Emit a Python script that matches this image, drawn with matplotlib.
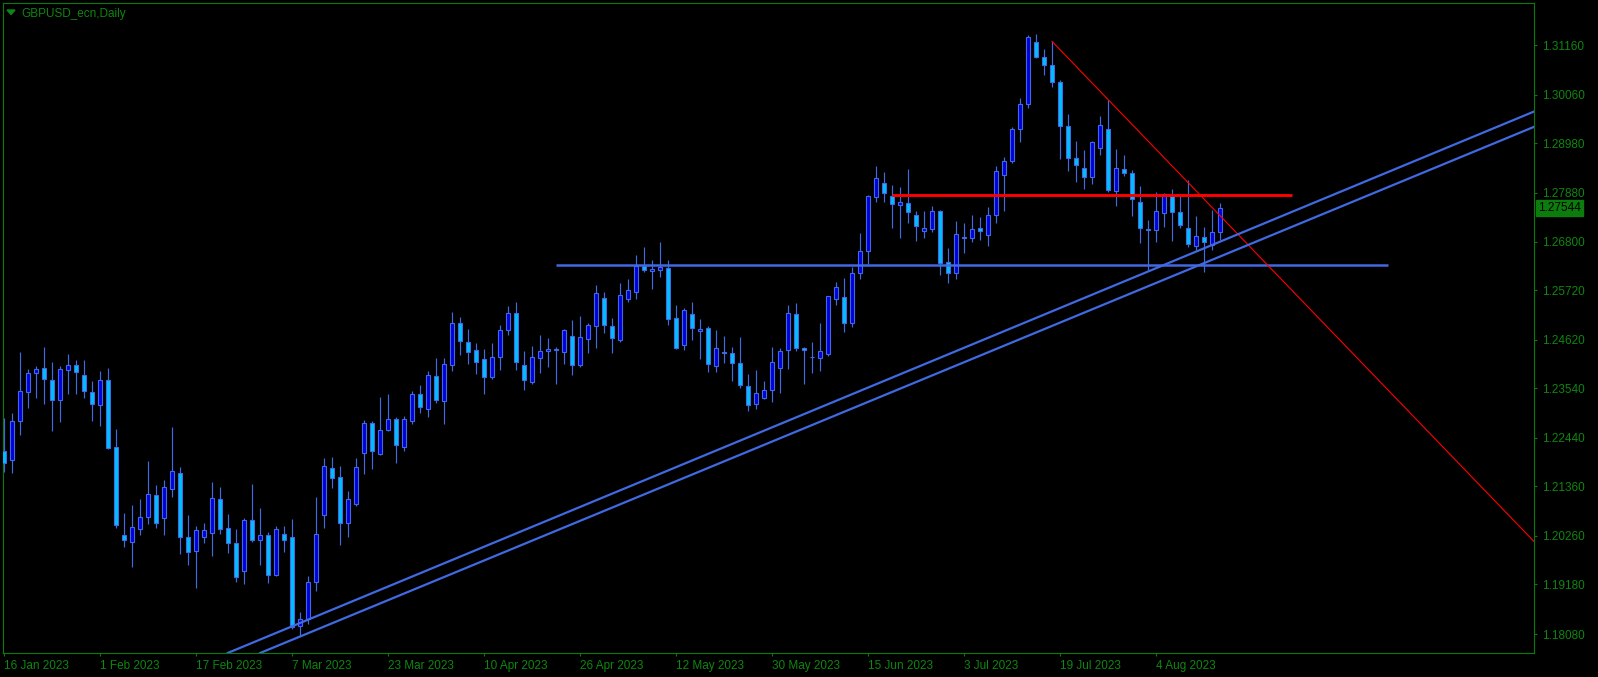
import matplotlib
matplotlib.use("Agg")
import matplotlib.pyplot as plt
import numpy as np
from matplotlib.patches import Polygon
from matplotlib.transforms import blended_transform_factory

plt.rcParams['font.family'] = ['Liberation Sans', 'DejaVu Sans']

# ---------------- data (GBPUSD daily, bar 0 = 16 Jan 2023) ----------------
opens = [1.22139, 1.21939, 1.22806, 1.23450, 1.23872, 1.23983, 1.23717, 1.23272, 1.23939, 1.24050,
         1.23828, 1.23450, 1.23161, 1.23717, 1.22228, 1.20273, 1.20117, 1.20406, 1.20673, 1.21162,
         1.20651, 1.21295, 1.21650, 1.20228, 1.19917, 1.20228, 1.20317, 1.21073, 1.20428, 1.20095,
         1.19473, 1.20606, 1.20162, 1.20273, 1.19399, 1.20295, 1.20228, 1.18258, 1.18407, 1.19229,
         1.20717, 1.21762, 1.21562, 1.20540, 1.20977, 1.22095, 1.22761, 1.22073, 1.22606, 1.22850,
         1.22228, 1.22806, 1.23405, 1.23072, 1.23805, 1.23250, 1.24050, 1.24983, 1.24561, 1.24383,
         1.24183, 1.23798, 1.24227, 1.24827, 1.25205, 1.24050, 1.23687, 1.24205, 1.24361, 1.24405,
         1.24338, 1.24694, 1.24050, 1.24627, 1.24916, 1.25538, 1.24916, 1.24605, 1.25516, 1.25671,
         1.26249, 1.26138, 1.26160, 1.26205, 1.25094, 1.24494, 1.25183, 1.24805, 1.24872, 1.24027,
         1.24338, 1.24330, 1.24094, 1.23583, 1.23183, 1.23331, 1.23494, 1.23983, 1.24383, 1.25183,
         1.24427, 1.24227, 1.24205, 1.24294, 1.25516, 1.25560, 1.25000, 1.26094, 1.26582, 1.27782,
         1.28093, 1.27804, 1.27604, 1.27649, 1.27382, 1.27027, 1.27071, 1.27471, 1.26338, 1.26094,
         1.26893, 1.26871, 1.27093, 1.26938, 1.27382, 1.28271, 1.28582, 1.29293, 1.29848, 1.31226,
         1.30893, 1.30715, 1.30337, 1.29360, 1.28649, 1.28426, 1.28226, 1.28871, 1.29293, 1.27915,
         1.28404, 1.28315, 1.27671, 1.27071, 1.27049, 1.27427, 1.27804, 1.27449, 1.27093, 1.26693,
         1.26893, 1.26716, 1.27004]
highs = [1.22880, 1.22984, 1.24346, 1.23969, 1.24035, 1.24457, 1.24124, 1.24035, 1.24302, 1.24168,
         1.24168, 1.23702, 1.23924, 1.23991, 1.22635, 1.20769, 1.20947, 1.21080, 1.21924, 1.21391,
         1.21502, 1.22680, 1.21791, 1.20725, 1.20473, 1.20547, 1.21450, 1.21347, 1.20740, 1.20406,
         1.20651, 1.21413, 1.20873, 1.20347, 1.20473, 1.20480, 1.20628, 1.18562, 1.19362, 1.21125,
         1.21991, 1.22013, 1.21813, 1.21251, 1.21991, 1.22835, 1.22813, 1.23346, 1.23413, 1.22895,
         1.22917, 1.23472, 1.23613, 1.23924, 1.24213, 1.24213, 1.25227, 1.25123, 1.24849, 1.24546,
         1.24412, 1.24546, 1.24946, 1.25368, 1.25449, 1.24361, 1.24479, 1.24724, 1.24650, 1.24450,
         1.24849, 1.25049, 1.25146, 1.24983, 1.25827, 1.25671, 1.25094, 1.25871, 1.25960, 1.26501,
         1.26679, 1.26382, 1.26790, 1.26390, 1.25390, 1.25316, 1.25449, 1.25072, 1.24916, 1.24827,
         1.24694, 1.24450, 1.24672, 1.23850, 1.23938, 1.23694, 1.24450, 1.24427, 1.25383, 1.25427,
         1.24450, 1.24561, 1.24983, 1.25600, 1.25901, 1.25990, 1.26227, 1.26982, 1.27834, 1.28478,
         1.28345, 1.28056, 1.28012, 1.28412, 1.27478, 1.27478, 1.27590, 1.27493, 1.26656, 1.27249,
         1.27204, 1.27382, 1.27338, 1.27560, 1.28471, 1.28671, 1.29337, 1.29982, 1.31381, 1.31404,
         1.31078, 1.31248, 1.30389, 1.29634, 1.29034, 1.28834, 1.29034, 1.29589, 1.29937, 1.28849,
         1.28723, 1.28382, 1.28027, 1.27286, 1.27908, 1.27871, 1.27960, 1.27804, 1.28167, 1.27367,
         1.27130, 1.27493, 1.27649]
lows = [1.21687, 1.21665, 1.22510, 1.23109, 1.23332, 1.23198, 1.22598, 1.22798, 1.23420, 1.23420,
        1.23332, 1.22821, 1.22709, 1.22198, 1.20443, 1.20021, 1.19577, 1.20288, 1.20532, 1.20443,
        1.20288, 1.21132, 1.19866, 1.19621, 1.19110, 1.20110, 1.19821, 1.20310, 1.19888, 1.19243,
        1.19199, 1.20132, 1.19621, 1.19221, 1.19377, 1.19910, 1.18184, 1.18029, 1.18295, 1.19044,
        1.20443, 1.21332, 1.20066, 1.20243, 1.20932, 1.21643, 1.21754, 1.22060, 1.22584, 1.21887,
        1.22154, 1.22754, 1.22998, 1.22909, 1.23220, 1.22750, 1.23931, 1.24287, 1.24087, 1.23864,
        1.23420, 1.23753, 1.23953, 1.24731, 1.23953, 1.23509, 1.23642, 1.23887, 1.24020, 1.23642,
        1.24087, 1.23842, 1.24005, 1.24331, 1.24442, 1.24775, 1.24331, 1.24575, 1.25449, 1.25531,
        1.26116, 1.25753, 1.26005, 1.24938, 1.24420, 1.24398, 1.24620, 1.24198, 1.23894, 1.23894,
        1.24109, 1.23709, 1.23553, 1.23042, 1.23087, 1.23309, 1.23242, 1.23442, 1.23975, 1.24375,
        1.23642, 1.23887, 1.23931, 1.24250, 1.25400, 1.24800, 1.24900, 1.25975, 1.26294, 1.27671,
        1.27686, 1.27108, 1.26886, 1.27219, 1.26819, 1.26871, 1.27004, 1.26049, 1.25886, 1.25975,
        1.26553, 1.26797, 1.26842, 1.26708, 1.27219, 1.27486, 1.28538, 1.29019, 1.29774, 1.30870,
        1.30493, 1.30241, 1.28641, 1.28375, 1.28130, 1.27960, 1.28071, 1.28730, 1.27893, 1.27597,
        1.28249, 1.27375, 1.26775, 1.26160, 1.26797, 1.27116, 1.26819, 1.27093, 1.26671, 1.26605,
        1.26131, 1.26605, 1.26842]
closes = [1.21887, 1.22806, 1.23472, 1.23872, 1.23961, 1.23754, 1.23272, 1.23961, 1.24050, 1.23909,
          1.23487, 1.23183, 1.23717, 1.22221, 1.20510, 1.20177, 1.20451, 1.20673, 1.21184, 1.20554,
          1.21339, 1.21695, 1.20228, 1.19910, 1.20384, 1.20384, 1.21095, 1.20421, 1.20095, 1.19355,
          1.20606, 1.20177, 1.20273, 1.19399, 1.20406, 1.20162, 1.18244, 1.18407, 1.19229, 1.20295,
          1.21806, 1.21539, 1.20540, 1.21073, 1.21784, 1.22761, 1.22139, 1.22606, 1.22850, 1.22273,
          1.22850, 1.23406, 1.23116, 1.23827, 1.23272, 1.24072, 1.24983, 1.24598, 1.24353, 1.24131,
          1.23798, 1.24227, 1.24827, 1.25205, 1.24116, 1.23731, 1.24227, 1.24361, 1.24405, 1.24383,
          1.24827, 1.24050, 1.24672, 1.24938, 1.25649, 1.24938, 1.24650, 1.25605, 1.25716, 1.26249,
          1.26160, 1.26182, 1.26227, 1.25072, 1.24442, 1.25272, 1.24872, 1.24849, 1.24072, 1.24427,
          1.24330, 1.24094, 1.23620, 1.23176, 1.23427, 1.23494, 1.24116, 1.24361, 1.25205, 1.24442,
          1.24383, 1.24235, 1.24361, 1.25583, 1.25783, 1.25000, 1.26094, 1.26582, 1.27804, 1.28204,
          1.27871, 1.27627, 1.27671, 1.27449, 1.27138, 1.27093, 1.27471, 1.26331, 1.26094, 1.26960,
          1.26871, 1.27071, 1.27027, 1.27382, 1.28360, 1.28582, 1.29293, 1.29848, 1.31337, 1.30893,
          1.30715, 1.30337, 1.29360, 1.28649, 1.28493, 1.28226, 1.29004, 1.29382, 1.27938, 1.28426,
          1.28315, 1.27738, 1.27093, 1.27060, 1.27471, 1.27849, 1.27449, 1.27160, 1.26738, 1.26916,
          1.26782, 1.27004, 1.27544]

xtick_bars = [0, 12, 24, 36, 48, 60, 72, 84, 96, 108, 120, 132, 144]
xtick_labels = ['16 Jan 2023', '1 Feb 2023', '17 Feb 2023', '7 Mar 2023', '23 Mar 2023',
                '10 Apr 2023', '26 Apr 2023', '12 May 2023', '30 May 2023', '15 Jun 2023',
                '3 Jul 2023', '19 Jul 2023', '4 Aug 2023']
ytick_labels = ['1.31160', '1.30060', '1.28980', '1.27880', '1.26800', '1.25720', '1.24620',
                '1.23540', '1.22440', '1.21360', '1.20260', '1.19180', '1.18080']

# drawn objects (bar index, price)
red_level = 1.27827
red_level_span = [111, 161]
blue_level = 1.26272
blue_level_span = [69, 173]
red_ray_pts = [(131, 1.31248), (138, 1.29957)]
trend_upper_pts = [(36, 1.18250), (191, 1.29670)]
trend_lower_pts = [(33, 1.17730), (191, 1.29330)]
last_price = '1.27544'
title = 'GBPUSD_ecn,Daily'

# ---------------- styling ----------------
W, H = 1598, 677
GREEN = '#0f860f'
FRAME = '#0a7a0a'
OUTLINE = '#4169E1'
BULL = '#0000D8'
BEAR = '#00BFFF'
LINEBLUE = '#4169E1'

fig = plt.figure(figsize=(W / 100, H / 100), dpi=100, facecolor='black')
L, R, T, B = 2.7, 1534, 2.6, 653
ax = fig.add_axes([L / W, (H - B) / H, (R - L) / W, (B - T) / H])
ax.set_facecolor('black')
ax.set_xlim(-0.16, 191.25)
ax.set_ylim(1.17658, 1.32109)

o = np.array(opens); h = np.array(highs); lo = np.array(lows); c = np.array(closes)
x = np.arange(len(o))
ax.vlines(x, lo, h, colors=OUTLINE, linewidth=0.85, zorder=2)
fills = [BULL if cc >= oo else BEAR for oo, cc in zip(o, c)]
ax.bar(x, np.maximum(np.abs(c - o), 0.00003), bottom=np.minimum(o, c), width=0.56,
       color=fills, edgecolor=OUTLINE, linewidth=0.8, zorder=3)

# levels and trend lines
ax.hlines(blue_level, *blue_level_span, colors=LINEBLUE, linewidth=1.8, zorder=4)
ax.hlines(red_level, *red_level_span, colors='#ff0000', linewidth=2.1, zorder=4)
(x0, y0), (x1, y1) = red_ray_pts
slope = (y1 - y0) / (x1 - x0)
xe = 200
ax.plot([x0, xe], [y0, y0 + slope * (xe - x0)], color='#ff0000', linewidth=0.8, zorder=4)
ax.axline(*trend_upper_pts, color=LINEBLUE, linewidth=1.6, zorder=4)
ax.axline(*trend_lower_pts, color=LINEBLUE, linewidth=1.6, zorder=4)

# axes
for s in ax.spines.values():
    s.set_color(FRAME)
    s.set_linewidth(0.8)
ax.yaxis.tick_right()
ax.set_yticks([float(v) for v in ytick_labels])
ax.set_yticklabels(ytick_labels)
ax.set_xticks(xtick_bars)
ax.set_xticklabels(xtick_labels)
ax.tick_params(axis='y', colors=FRAME, labelcolor=GREEN, labelsize=8.5, length=2.2,
               width=0.8, pad=3.4)
ax.tick_params(axis='x', colors=FRAME, labelcolor=GREEN, labelsize=8.5, length=2.2,
               width=0.8, pad=3.0)
for lbl in ax.get_xticklabels():
    lbl.set_horizontalalignment('left')

# last price tag
tr = blended_transform_factory(ax.transAxes, ax.transData)
ax.text(1.0 + 4.5 / (R - L), float(last_price), last_price, transform=tr, ha='left',
        va='center', fontsize=8.5, color='black', clip_on=False,
        bbox=dict(boxstyle='square,pad=0.18', fc='#0c7c0c', ec='#0c7c0c'))

# title with small triangle
fig.text(21.7 / W, 1 - 17 / H, title, color=GREEN, fontsize=8.5, ha='left', va='baseline')
tri = Polygon([(7 / W, 1 - 10 / H), (15 / W, 1 - 10 / H), (11 / W, 1 - 14.5 / H)],
              closed=True, transform=fig.transFigure, facecolor=GREEN, edgecolor=GREEN)
fig.patches.append(tri)

fig.savefig('out.png', dpi=100, facecolor='black')
